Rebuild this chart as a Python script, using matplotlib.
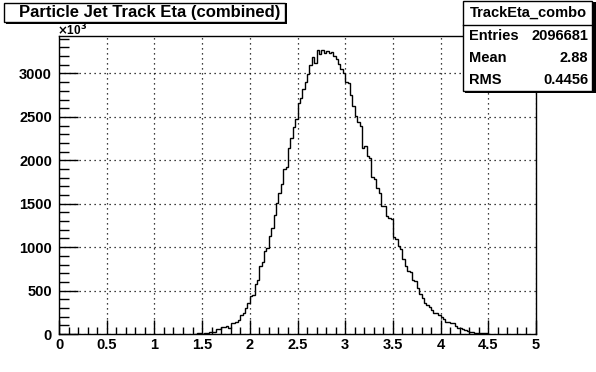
import numpy as np
import matplotlib
matplotlib.use("Agg")
import matplotlib.pyplot as plt
from matplotlib.patches import Rectangle
from matplotlib.ticker import MultipleLocator

# histogram contents (axis units, x10^3), 0.025 wide bins starting at eta = 1.425
bin_lo = 1.425
bin_w = 0.025
counts = [3, 8, 8, 5, 15, 15, 18, 25, 28, 54, 56, 85, 86, 96, 72, 124, 132, 137, 162,
          220, 240, 297, 355, 443, 447, 579, 617, 787, 830, 960, 990, 1130, 1220, 1370,
          1512, 1628, 1725, 1898, 1918, 2138, 2253, 2381, 2470, 2662, 2716, 2816, 2901,
          2998, 3094, 3191, 3125, 3268, 3225, 3265, 3240, 3256, 3230, 3245, 3202, 3163,
          3110, 3050, 3009, 2901, 2885, 2755, 2631, 2515, 2438, 2392, 2138, 2160, 2045,
          2022, 1813, 1782, 1686, 1628, 1473, 1473, 1357, 1335, 1327, 1119, 1096, 1019,
          980, 864, 779, 729, 710, 625, 605, 529, 463, 413, 362, 336, 309, 278, 247, 240,
          220, 193, 170, 139, 139, 131, 131, 93, 66, 66, 62, 46, 40, 27, 27, 15, 15, 8, 8,
          8, 6]

title = "Particle Jet Track Eta (combined)"
stat_name = "TrackEta_combo"
stat_rows = [("Entries", "2096681"), ("Mean", "2.88"), ("RMS", "0.4456")]

W, H = 596, 372
plt.rcParams['font.family'] = ['Liberation Sans', 'DejaVu Sans']
plt.rcParams['font.weight'] = 'bold'

fig = plt.figure(figsize=(W / 100, H / 100), dpi=100)


def fx(px):
    return px / W


def fy(py):
    return 1 - py / H


ax = fig.add_axes([fx(59), fy(334), fx(536) - fx(59), fy(36) - fy(334)])
edges = bin_lo + bin_w * np.arange(len(counts) + 1)
ax.stairs(counts, edges, color='black', lw=1.0)

ax.set_xlim(0, 5)
ax.set_ylim(0, max(counts) * 1.05)
ax.xaxis.set_major_locator(MultipleLocator(0.5))
ax.xaxis.set_minor_locator(MultipleLocator(0.1))
ax.yaxis.set_major_locator(MultipleLocator(500))
ax.yaxis.set_minor_locator(MultipleLocator(100))
ax.set_xticks(np.arange(0, 5.01, 0.5))
ax.set_xticklabels(['0', '0.5', '1', '1.5', '2', '2.5', '3', '3.5', '4', '4.5', '5'])
ax.tick_params(axis='x', which='major', direction='in', length=10, width=1, labelsize=10.5, pad=3)
ax.tick_params(axis='x', which='minor', direction='in', length=5, width=1)
ax.tick_params(axis='y', which='major', direction='in', length=14, width=1, labelsize=10.5, pad=5)
ax.tick_params(axis='y', which='minor', direction='in', length=7, width=1)
ax.grid(True, which='major', color='black', linestyle=(0, (1, 3)), lw=0.9)
for s in ax.spines.values():
    s.set_linewidth(1.0)

fig.text(fx(57), fy(35), r'$\times$10$^{3}$', fontsize=8.5, va='baseline', ha='left')

# title box with shadow
fig.patches.append(Rectangle((fx(6), fy(24)), fx(281), fy(0) - fy(21), transform=fig.transFigure,
                             facecolor='black', edgecolor='black', lw=0))
fig.patches.append(Rectangle((fx(4), fy(22)), fx(281), fy(0) - fy(19), transform=fig.transFigure,
                             facecolor='white', edgecolor='black', lw=1))
fig.text(fx(19), fy(12.5), title, fontsize=12, fontweight='bold', va='center', ha='left')

# stats box with shadow
fig.patches.append(Rectangle((fx(465), fy(93)), fx(131), fy(0) - fy(91), transform=fig.transFigure,
                             facecolor='black', edgecolor='black', lw=0))
fig.patches.append(Rectangle((fx(463), fy(91)), fx(129), fy(0) - fy(90), transform=fig.transFigure,
                             facecolor='white', edgecolor='black', lw=1))
fig.add_artist(plt.Line2D([fx(463), fx(592)], [fy(25), fy(25)], transform=fig.transFigure,
                          color='black', lw=1))
fig.text(fx(528), fy(13), stat_name, fontsize=10.5, fontweight='bold', va='center', ha='center')
for i, (k, v) in enumerate(stat_rows):
    y = fy(36 + 22 * i)
    fig.text(fx(469), y, k, fontsize=10.5, fontweight='bold', va='center', ha='left')
    fig.text(fx(588), y, v, fontsize=10.5, fontweight='bold', va='center', ha='right')

fig.savefig('out.png', dpi=100)
